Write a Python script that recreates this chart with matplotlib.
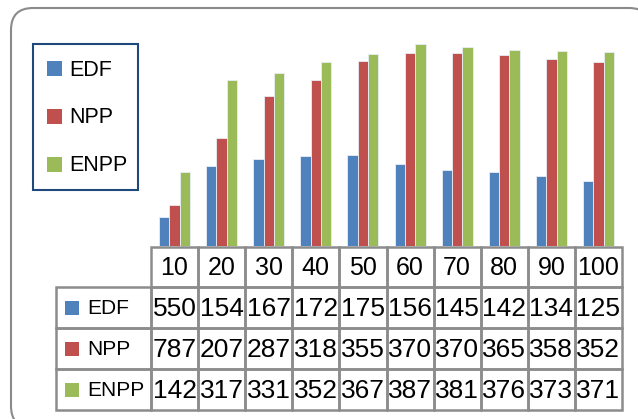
import numpy as np
import matplotlib.pyplot as plt
from matplotlib.patches import FancyBboxPatch, Rectangle

plt.rcParams['font.family'] = ['Liberation Sans', 'DejaVu Sans']

sizes = ['10', '20', '30', '40', '50', '60', '70', '80', '90', '100']
series = ['EDF', 'NPP', 'ENPP']
edf = np.array([55.0, 154, 167, 172, 175, 156, 145, 142, 134, 125], dtype=float)
npp = np.array([78.7, 207, 287, 318, 355, 370, 370, 365, 358, 352], dtype=float)
enpp = np.array([142, 317, 331, 352, 367, 387, 381, 376, 373, 371], dtype=float)

colors = ['#4F81BD', '#C0504D', '#9BBB59']
W, H = 638, 419


def cell_text(v):
    # narrow cells drop the decimal point, e.g. 55.0 -> "550"
    return f"{v:#.3g}".replace('.', '')


fig = plt.figure(figsize=(W / 100, H / 100), dpi=100)

# overlay in pixel coordinates for the frame, legend and data table
over = fig.add_axes([0, 0, 1, 1])
over.set_xlim(0, W)
over.set_ylim(H, 0)
over.axis('off')
over.add_patch(FancyBboxPatch((11, 8), 640, 420, boxstyle='round,pad=0,rounding_size=22',
                              fc='white', ec='#8a8a8a', lw=1.5))

# bars
x0, x1, ytop, ybase = 151, 622, 37, 246
ax = fig.add_axes([x0 / W, (H - ybase) / H, (x1 - x0) / W, (ybase - ytop) / H])
ax.set_xlim(-0.5, 9.5)
ax.set_ylim(0, 400)
ax.axis('off')
x = np.arange(len(sizes))
bw = 0.22
for k, vals in enumerate([edf, npp, enpp]):
    ax.bar(x + (k - 1) * bw, vals, bw, color=colors[k], edgecolor='#e8eef6',
           linewidth=0.6, label=series[k])

# legend box
over.add_patch(Rectangle((33, 44), 105, 146, fc='white', ec='#1F497D', lw=1.5))
for k, name in enumerate(series):
    yc = 69 + k * 47.5
    over.add_patch(Rectangle((47, yc - 7.5), 15, 15, fc=colors[k], ec='none'))
    over.text(69, yc + 1, name, ha='left', va='center', fontsize=15.5)

# data table
col_w = (x1 - x0) / len(sizes)
rows_y = [247, 287, 328, 369, 410]
lab_x = 56
grid = '#8c8c8c'
for j, s in enumerate(sizes):
    cx = x0 + j * col_w
    over.add_patch(Rectangle((cx, rows_y[0]), col_w, rows_y[1] - rows_y[0], fc='none', ec=grid, lw=1.8))
    over.text(cx + col_w / 2, (rows_y[0] + rows_y[1]) / 2 + 1, s, ha='center', va='center', fontsize=18)
for i, vals in enumerate([edf, npp, enpp]):
    ya, yb = rows_y[i + 1], rows_y[i + 2]
    over.add_patch(Rectangle((lab_x, ya), x0 - lab_x, yb - ya, fc='none', ec=grid, lw=1.8))
    over.add_patch(Rectangle((65, (ya + yb) / 2 - 7), 14, 14, fc=colors[i], ec='none'))
    over.text(87, (ya + yb) / 2 + 1, series[i], ha='left', va='center', fontsize=15)
    for j, v in enumerate(vals):
        cx = x0 + j * col_w
        over.add_patch(Rectangle((cx, ya), col_w, yb - ya, fc='none', ec=grid, lw=1.8))
        over.text(cx + col_w / 2, (ya + yb) / 2 + 1, cell_text(v), ha='center', va='center', fontsize=19)

fig.savefig('out.png', dpi=100)
